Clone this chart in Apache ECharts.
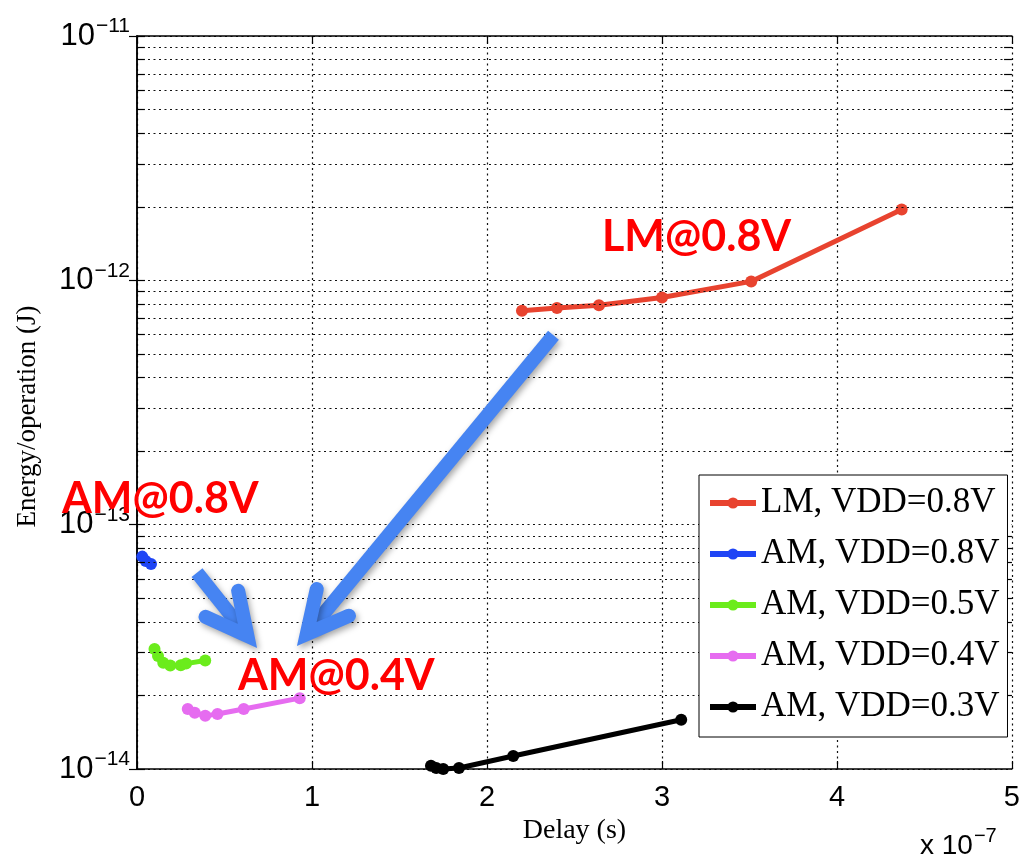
<!DOCTYPE html>
<html><head><meta charset="utf-8">
<script src="https://cdn.jsdelivr.net/npm/echarts@6/dist/echarts.min.js"></script>
<style>html,body{margin:0;padding:0;background:#fff}#c{width:1023px;height:860px}</style>
</head><body><div id="c"></div>
<script>
// ---- data (delay in seconds, energy in joules) ----
const seriesNames = ['LM, VDD=0.8V', 'AM, VDD=0.8V', 'AM, VDD=0.5V', 'AM, VDD=0.4V', 'AM, VDD=0.3V'];
const seriesColors = ['#e8432f', '#1f45f5', '#6bec1c', '#e66cf0', '#000000'];

const lmDelay08  = [2.20e-7, 2.40e-7, 2.64e-7, 3.00e-7, 3.51e-7, 4.37e-7];
const lmEnergy08 = [7.5e-13, 7.7e-13, 7.9e-13, 8.5e-13, 9.9e-13, 1.95e-12];

const amDelay08  = [0.03e-7, 0.05e-7, 0.08e-7];
const amEnergy08 = [7.4e-14, 7.1e-14, 6.9e-14];

const amDelay05  = [0.10e-7, 0.12e-7, 0.15e-7, 0.19e-7, 0.25e-7, 0.28e-7, 0.39e-7];
const amEnergy05 = [3.1e-14, 2.9e-14, 2.72e-14, 2.65e-14, 2.66e-14, 2.7e-14, 2.78e-14];

const amDelay04  = [0.29e-7, 0.33e-7, 0.39e-7, 0.46e-7, 0.61e-7, 0.93e-7];
const amEnergy04 = [1.76e-14, 1.70e-14, 1.65e-14, 1.68e-14, 1.76e-14, 1.95e-14];

const amDelay03  = [1.68e-7, 1.71e-7, 1.75e-7, 1.84e-7, 2.15e-7, 3.11e-7];
const amEnergy03 = [1.03e-14, 1.01e-14, 1.0e-14, 1.01e-14, 1.13e-14, 1.59e-14];

// annotation arrows: [startDelay, startEnergy, tipDelay, tipEnergy]
const arrowBig   = [2.38e-7, 5.96e-13, 0.914e-7, 3.19e-14];
const arrowSmall = [0.343e-7, 6.36e-14, 0.686e-7, 3.13e-14];

const annotationTexts = ['LM@0.8V', 'AM@0.8V', 'AM@0.4V'];

// axis ranges / ticks
const xMin = 0, xMax = 5e-7, xStep = 1e-7;
const yMin = 1e-14, yMax = 1e-11;
const minorMantissas = [2, 3, 4, 5, 6, 7, 8, 9];
const decades = [-14, -13, -12];

// ---- build ----
const zip = (a, b) => a.map((v, i) => [v, b[i]]);
const dataSets = [
  zip(lmDelay08, lmEnergy08),
  zip(amDelay08, amEnergy08),
  zip(amDelay05, amEnergy05),
  zip(amDelay04, amEnergy04),
  zip(amDelay03, amEnergy03)
];
const minorValues = [];
decades.forEach(d => minorMantissas.forEach(m => minorValues.push(m * Math.pow(10, d))));

const gridDash = { color: '#111', width: 1.2, type: [2, 3.5] };
const tickLen = 8;
const tickDx = 0.045e-7;

const markData = [];
minorValues.forEach(v => {
  markData.push([{ coord: [xMin, v], lineStyle: gridDash }, { coord: [xMax, v] }]);
  markData.push([{ coord: [xMin, v], lineStyle: { color: '#000', width: 1.2, type: 'solid' } }, { coord: [xMin + tickDx, v] }]);
  markData.push([{ coord: [xMax - tickDx, v], lineStyle: { color: '#000', width: 1.2, type: 'solid' } }, { coord: [xMax, v] }]);
});

const arrowColor = '#4684f2';
function renderArrow(params, api) {
  const p1 = api.coord([api.value(0), api.value(1)]);
  const p2 = api.coord([api.value(2), api.value(3)]);
  const lw = 14;
  const half = 27 * Math.PI / 180;
  let dx = p2[0] - p1[0], dy = p2[1] - p1[1];
  const len = Math.hypot(dx, dy); dx /= len; dy /= len;
  const back = (lw / 2) / Math.sin(half);
  const j = [p2[0] - dx * back, p2[1] - dy * back];
  const L = 46;
  const rot = (a) => [dx * Math.cos(a) - dy * Math.sin(a), dx * Math.sin(a) + dy * Math.cos(a)];
  const r1 = rot(half), r2 = rot(-half);
  const w1 = [j[0] - r1[0] * L, j[1] - r1[1] * L];
  const w2 = [j[0] - r2[0] * L, j[1] - r2[1] * L];
  const shadow = { shadowBlur: 6, shadowColor: 'rgba(0,0,0,0.35)', shadowOffsetX: 2, shadowOffsetY: 3 };
  return {
    type: 'group',
    children: [
      { type: 'polyline', shape: { points: [p1, [j[0] - dx * 4, j[1] - dy * 4]] },
        style: Object.assign({ stroke: arrowColor, lineWidth: lw, lineCap: 'butt', fill: null }, shadow) },
      { type: 'polyline', shape: { points: [w1, j, w2] },
        style: Object.assign({ stroke: arrowColor, lineWidth: lw, lineCap: 'round', lineJoin: 'miter', miterLimit: 10, fill: null }, shadow) }
    ]
  };
}

const chart = echarts.init(document.getElementById('c'), null, { renderer: 'canvas' });

const lineSeries = dataSets.map((d, i) => ({
  name: seriesNames[i],
  type: 'line',
  data: d,
  color: seriesColors[i],
  lineStyle: { width: 5, color: seriesColors[i] },
  itemStyle: { color: seriesColors[i] },
  symbol: 'circle',
  symbolSize: 12,
  showSymbol: true,
  z: 4,
  clip: false,
  animation: false
}));

const supLabel = (v) => {
  const e = Math.round(Math.log10(v));
  return '{b|10}{s|\u2212' + Math.abs(e) + '}';
};

const option = {
  backgroundColor: '#fff',
  animation: false,
  grid: { left: 137, top: 36, right: 11, bottom: 91, containLabel: false },
  xAxis: [{
    type: 'value', min: xMin, max: xMax, interval: xStep,
    name: 'Delay (s)', nameLocation: 'middle', nameGap: 40,
    nameTextStyle: { fontFamily: 'Liberation Serif', fontSize: 28, color: '#000' },
    axisLine: { show: true, lineStyle: { color: '#000', width: 1.5 } },
    axisTick: { show: true, inside: true, length: tickLen, lineStyle: { color: '#000', width: 1.2 } },
    axisLabel: { margin: 14, fontFamily: 'Liberation Sans', fontSize: 29, color: '#000',
      formatter: v => String(Math.round(v / xStep)) },
    splitLine: { show: true, lineStyle: gridDash }
  }, {
    type: 'value', min: xMin, max: xMax, interval: xStep, position: 'top',
    axisLine: { show: true, lineStyle: { color: '#000', width: 1.5 } },
    axisTick: { show: true, inside: true, length: tickLen, lineStyle: { color: '#000', width: 1.2 } },
    axisLabel: { show: false }, splitLine: { show: false }
  }],
  yAxis: [{
    type: 'log', logBase: 10, min: yMin, max: yMax,
    name: 'Energy/operation (J)', nameLocation: 'middle', nameGap: 96,
    nameTextStyle: { fontFamily: 'Liberation Serif', fontSize: 27, color: '#000', padding: [0, 28, 0, 0] },
    axisLine: { show: true, lineStyle: { color: '#000', width: 1.5 } },
    axisTick: { show: true, inside: true, length: tickLen, lineStyle: { color: '#000', width: 1.2 } },
    axisLabel: {
      margin: 7, formatter: supLabel,
      rich: {
        b: { fontFamily: 'Liberation Sans', fontSize: 31, color: '#000' },
        s: { fontFamily: 'Liberation Sans', fontSize: 21, color: '#000', padding: [0, 0, 19, 1] }
      }
    },
    splitLine: { show: true, lineStyle: gridDash },
    minorTick: { show: false }
  }, {
    type: 'log', logBase: 10, min: yMin, max: yMax, position: 'right',
    axisLine: { show: true, lineStyle: { color: '#000', width: 1.5 } },
    axisTick: { show: true, inside: true, length: tickLen, lineStyle: { color: '#000', width: 1.2 } },
    axisLabel: { show: false }, splitLine: { show: false }
  }],
  legend: {
    data: seriesNames,
    orient: 'vertical',
    left: 699, top: 475,
    backgroundColor: '#fff',
    borderColor: '#000', borderWidth: 1,
    padding: [8, 8, 10, 8],
    itemGap: 11,
    itemWidth: 46, itemHeight: 14,
    lineStyle: { width: 6 },
    itemStyle: { borderWidth: 0 },
    textStyle: { fontFamily: 'Liberation Serif', fontSize: 35, color: '#000', lineHeight: 40 },
    z: 20
  },
  graphic: [
    { type: 'text', z: 100, left: 602, top: 216,
      style: { text: annotationTexts[0], font: 'bold 43px Lato', fill: '#ff0000' } },
    { type: 'text', z: 100, left: 62, top: 478,
      style: { text: annotationTexts[1], font: 'bold 43px Lato', fill: '#ff0000' } },
    { type: 'text', z: 100, left: 238, top: 655,
      style: { text: annotationTexts[2], font: 'bold 43px Lato', fill: '#ff0000' } },
    { type: 'text', z: 100, left: 920, top: 826,
      style: {
        text: '{a|x 10}{s|\u22127}',
        rich: {
          a: { fontFamily: 'Liberation Sans', fontSize: 28, fill: '#000' },
          s: { fontFamily: 'Liberation Sans', fontSize: 20, fill: '#000', padding: [0, 0, 20, 1] }
        }
      } }
  ],
  series: [
    {
      name: 'minor-grid', type: 'line', data: [], silent: true, z: 1,
      markLine: { silent: true, symbol: ['none', 'none'], label: { show: false }, animation: false,
        lineStyle: { color: '#000', width: 1 }, data: markData }
    },
    ...lineSeries,
    {
      name: 'arrows', type: 'custom', silent: true, z: 10, clip: false,
      renderItem: renderArrow,
      encode: { x: [0, 2], y: [1, 3] },
      data: [arrowBig, arrowSmall]
    }
  ]
};
chart.setOption(option);
</script>
</body></html>
